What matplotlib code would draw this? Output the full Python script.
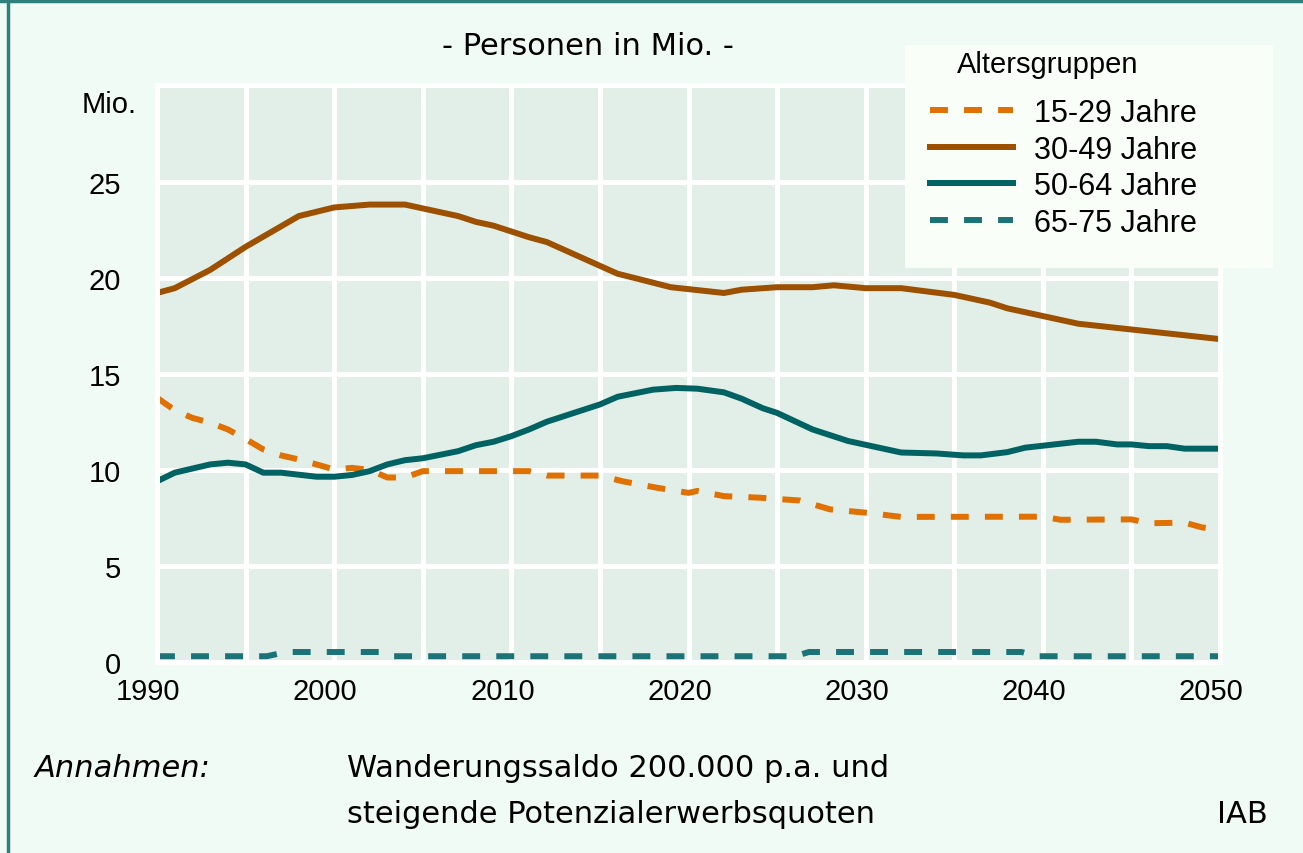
import matplotlib.pyplot as plt
from matplotlib.lines import Line2D
from matplotlib.patches import Rectangle
from matplotlib.ticker import MultipleLocator
from matplotlib.transforms import ScaledTranslation

# Werte (Mio. Personen)
years_15_29 = [1990, 1991, 1992, 1993, 1994, 1995, 1996, 1997, 1998, 1999, 2000, 2001, 2002,
               2003, 2004, 2005, 2011, 2012, 2015, 2016.3, 2018.2, 2020, 2020.5, 2022, 2024,
               2026.3, 2028, 2030, 2032, 2040, 2041, 2045, 2046, 2048, 2049, 2050]
vals_15_29 = [13.75, 13.1, 12.7, 12.45, 12.1, 11.6, 11.06, 10.75, 10.54, 10.28, 10.02, 10.1, 10.0,
              9.6, 9.6, 9.93, 9.93, 9.7, 9.7, 9.4, 9.07, 8.8, 8.9, 8.63, 8.55,
              8.4, 7.94, 7.77, 7.55, 7.56, 7.4, 7.42, 7.22, 7.25, 7.0, 6.9]

years_30_49 = [1990, 1991, 1993, 1995, 1998, 2000, 2002, 2004, 2007, 2008, 2009, 2011, 2012,
               2016, 2017.3, 2019, 2022, 2023, 2025, 2027, 2028.2, 2030, 2032, 2035, 2037,
               2038, 2042, 2045, 2050]
vals_30_49 = [19.2, 19.45, 20.4, 21.6, 23.2, 23.65, 23.8, 23.8, 23.2, 22.9, 22.7, 22.1, 21.85,
              20.2, 19.9, 19.5, 19.2, 19.37, 19.5, 19.5, 19.6, 19.45, 19.45, 19.1, 18.7,
              18.4, 17.6, 17.3, 16.8]

years_50_64 = [1990, 1991, 1993, 1994, 1995, 1996, 1997, 1999, 2000, 2001, 2002, 2003, 2004,
               2005, 2007, 2008, 2009, 2010, 2011, 2012, 2015, 2016, 2018, 2019.3, 2020.5,
               2022, 2023, 2024.2, 2025, 2027, 2029, 2030, 2032, 2034, 2035.5, 2036.5, 2038,
               2039, 2042, 2043, 2044.2, 2045, 2046, 2047, 2048, 2050]
vals_50_64 = [9.4, 9.85, 10.28, 10.37, 10.28, 9.85, 9.85, 9.64, 9.64, 9.73, 9.93, 10.28, 10.5,
              10.6, 10.97, 11.28, 11.46, 11.75, 12.1, 12.5, 13.4, 13.8, 14.17, 14.26, 14.22,
              14.03, 13.7, 13.2, 12.96, 12.1, 11.5, 11.3, 10.9, 10.85, 10.75, 10.75, 10.92,
              11.15, 11.46, 11.46, 11.32, 11.32, 11.23, 11.23, 11.1, 11.1]

years_65_75 = [1990, 1996.2, 1997.3, 2002.6, 2003.3, 2026.0, 2026.8, 2038.8, 2039.6, 2050]
vals_65_75 = [0.3, 0.3, 0.52, 0.52, 0.3, 0.3, 0.52, 0.52, 0.3, 0.3]

labels = ['15-29 Jahre', '30-49 Jahre', '50-64 Jahre', '65-75 Jahre']
colors = ['#e07000', '#9c5000', '#006262', '#1b7378']
x_ticks = [1990, 2000, 2010, 2020, 2030, 2040, 2050]
y_ticks = [0, 5, 10, 15, 20, 25]

W, H = 1303, 854
fig = plt.figure(figsize=(W / 100, H / 100), dpi=100, facecolor='#f1fbf6')

# Plotbereich
ax = fig.add_axes([157 / W, 191 / H, 1063 / W, 576.6 / H])
ax.set_facecolor('#e1efe8')

lw = 4.3
dash = (0, (3, 2.7))
ax.plot(years_15_29, vals_15_29, color=colors[0], lw=lw, linestyle=dash, dash_capstyle='butt', label=labels[0])
ax.plot(years_30_49, vals_30_49, color=colors[1], lw=lw, label=labels[1])
ax.plot(years_50_64, vals_50_64, color=colors[2], lw=lw, label=labels[2])
ax.plot(years_65_75, vals_65_75, color=colors[3], lw=lw, linestyle=dash, dash_capstyle='butt', label=labels[3])

ax.set_xlim(1990, 2050)
ax.set_ylim(0, 30)
ax.set_xticks(x_ticks)
ax.set_xticklabels([str(y) for y in x_ticks])
ax.xaxis.set_minor_locator(MultipleLocator(5))
ax.set_yticks(y_ticks)
ax.set_yticklabels([str(v) for v in y_ticks])
ax.yaxis.set_minor_locator(MultipleLocator(5))
ax.grid(True, which='both', color='white', lw=3.6)
ax.set_axisbelow(True)
for s in ax.spines.values():
    s.set_color('white')
    s.set_linewidth(3.6)
ax.tick_params(which='both', length=0)
ax.tick_params(axis='x', pad=11, labelsize=21)
ax.tick_params(axis='y', pad=26, labelsize=21)
shift = ScaledTranslation(-9 / 100, 0, fig.dpi_scale_trans)
for t in ax.get_xticklabels():
    t.set_fontfamily('Liberation Sans')
    t.set_transform(t.get_transform() + shift)
for t in ax.get_yticklabels():
    t.set_fontfamily('Liberation Sans')

fig.text(82 / W, 1 - 112.7 / H, 'Mio.', fontsize=21, family='Liberation Sans', va='baseline')
fig.text(588 / W, 1 - 55 / H, '- Personen in Mio. -', fontsize=22, ha='center', va='baseline')

# Legende mit eigenem Hintergrund
fig.patches.append(Rectangle((905 / W, 1 - 269 / H), 368 / W, 223 / H, transform=fig.transFigure,
                             facecolor='#f9fef9', edgecolor='none', zorder=3))
fig.text(957 / W, 1 - 73.3 / H, 'Altersgruppen', fontsize=21, family='Liberation Sans',
         va='baseline', zorder=6)
handles, lbls = ax.get_legend_handles_labels()
leg = fig.legend(handles, lbls, loc='upper left', bbox_to_anchor=(930 / W, 1 - 99 / H),
                 frameon=False, borderpad=0, borderaxespad=0, handlelength=2.7,
                 handletextpad=0.72, labelspacing=0.215,
                 prop={'family': 'Liberation Sans', 'size': 22})
leg.set_zorder(6)

# Fußzeile
fig.text(35 / W, 1 - 776.7 / H, 'Annahmen:', fontsize=22, style='italic', va='baseline')
fig.text(347 / W, 1 - 776.7 / H, 'Wanderungssaldo 200.000 p.a. und', fontsize=22, va='baseline')
fig.text(347 / W, 1 - 823 / H, 'steigende Potenzialerwerbsquoten', fontsize=22, va='baseline')
fig.text(1268 / W, 1 - 823 / H, 'IAB', fontsize=22, ha='right', va='baseline')

# Rahmen links und oben
fig.add_artist(Line2D([7.5 / W, 7.5 / W], [0, 1], transform=fig.transFigure, color='#2f7f7a', lw=2.5))
fig.add_artist(Line2D([0, 1], [1 - 1.5 / H, 1 - 1.5 / H], transform=fig.transFigure, color='#2f7f7a', lw=2.5))

fig.savefig('out.png', dpi=100, facecolor=fig.get_facecolor())
